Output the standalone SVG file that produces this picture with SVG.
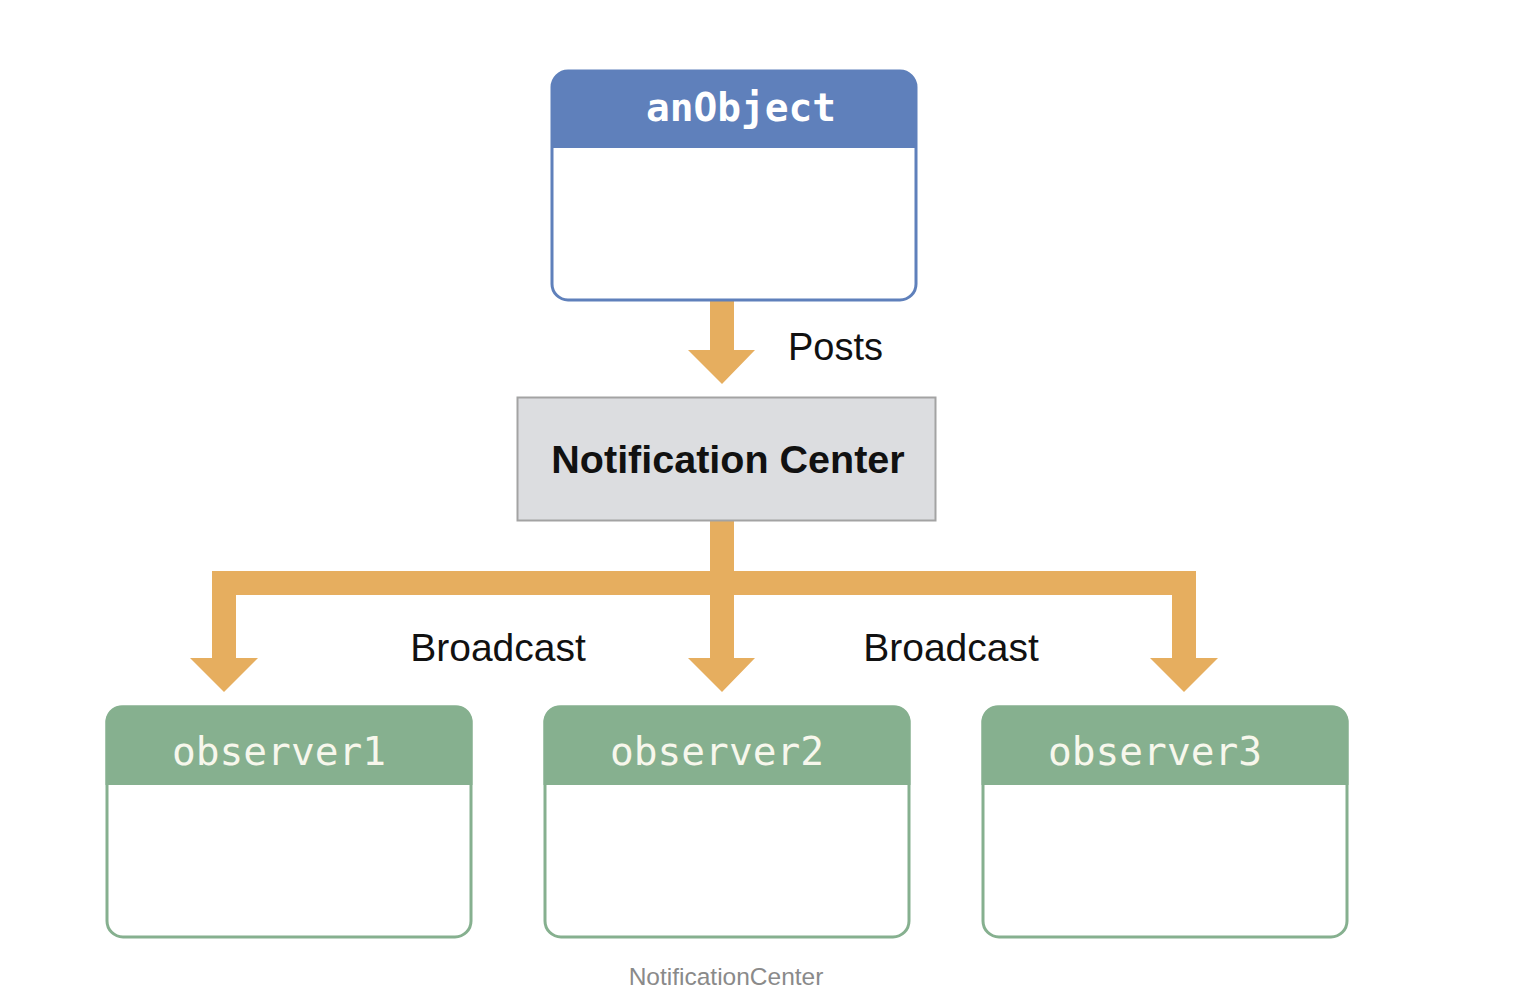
<svg xmlns="http://www.w3.org/2000/svg" width="1520" height="1006" viewBox="0 0 1520 1006">
<style>
.mono{font-family:"DejaVu Sans Mono","Liberation Mono",monospace;font-size:39.5px;text-anchor:middle}
.sans{font-family:"Liberation Sans",Arial,sans-serif}
.arrow{fill:#e6ae5f}
.obsbody{fill:#ffffff;stroke:#86b08f;stroke-width:3}
.obshead{fill:#86b08f}
.obstext{fill:#f7f7ec}
</style>
<rect width="1520" height="1006" fill="#ffffff"/>
<g id="connectors">
<polygon class="arrow" points="710,300 734,300 734,350 755,350 722,384 688,350 710,350"/>
<path class="arrow" d="M710,521 H734 V571 H1196 V658 H1218 L1184,692 L1150,658 H1172 V595 H734 V658 H755 L722,692 L688,658 H710 V595 H236 V658 H258 L224,692 L190,658 H212 V571 H710 Z"/>
</g>
<g id="anObject">
<rect x="552" y="71" width="364" height="229" rx="16" fill="#ffffff" stroke="#5f80bb" stroke-width="3"/>
<path d="M552,148 V87 A16,16 0 0 1 568,71 H900 A16,16 0 0 1 916,87 V148 Z" fill="#5f80bb"/>
<text x="741" y="121" class="mono" font-weight="bold" fill="#ffffff">anObject</text>
</g>
<text id="label-posts" x="788" y="360" class="sans" font-size="38" fill="#111111">Posts</text>
<g id="notification-center">
<rect x="517.5" y="397.5" width="418" height="123" fill="#dcdde0" stroke="#a3a3a3" stroke-width="2"/>
<text x="728" y="473" class="sans" font-size="39.5" font-weight="bold" text-anchor="middle" fill="#111111">Notification Center</text>
</g>
<text id="label-broadcast1" x="498" y="661" class="sans" font-size="39" text-anchor="middle" fill="#111111">Broadcast</text>
<text id="label-broadcast2" x="951" y="661" class="sans" font-size="39" text-anchor="middle" fill="#111111">Broadcast</text>
<g id="observer1">
<rect x="107" y="707" width="364" height="230" rx="16" class="obsbody"/>
<path d="M105.5,785 V723 A16,16 0 0 1 121.5,705.5 H456.5 A16,16 0 0 1 472.5,723 V785 Z" class="obshead"/>
<text x="279" y="765" class="mono obstext">observer1</text>
</g>
<g id="observer2">
<rect x="545" y="707" width="364" height="230" rx="16" class="obsbody"/>
<path d="M543.5,785 V723 A16,16 0 0 1 559.5,705.5 H894.5 A16,16 0 0 1 910.5,723 V785 Z" class="obshead"/>
<text x="717" y="765" class="mono obstext">observer2</text>
</g>
<g id="observer3">
<rect x="983" y="707" width="364" height="230" rx="16" class="obsbody"/>
<path d="M981.5,785 V723 A16,16 0 0 1 997.5,705.5 H1332.5 A16,16 0 0 1 1348.5,723 V785 Z" class="obshead"/>
<text x="1155" y="765" class="mono obstext">observer3</text>
</g>
<text id="caption" x="726" y="985" class="sans" font-size="24.5" text-anchor="middle" fill="#8a8a8a">NotificationCenter</text>
</svg>
